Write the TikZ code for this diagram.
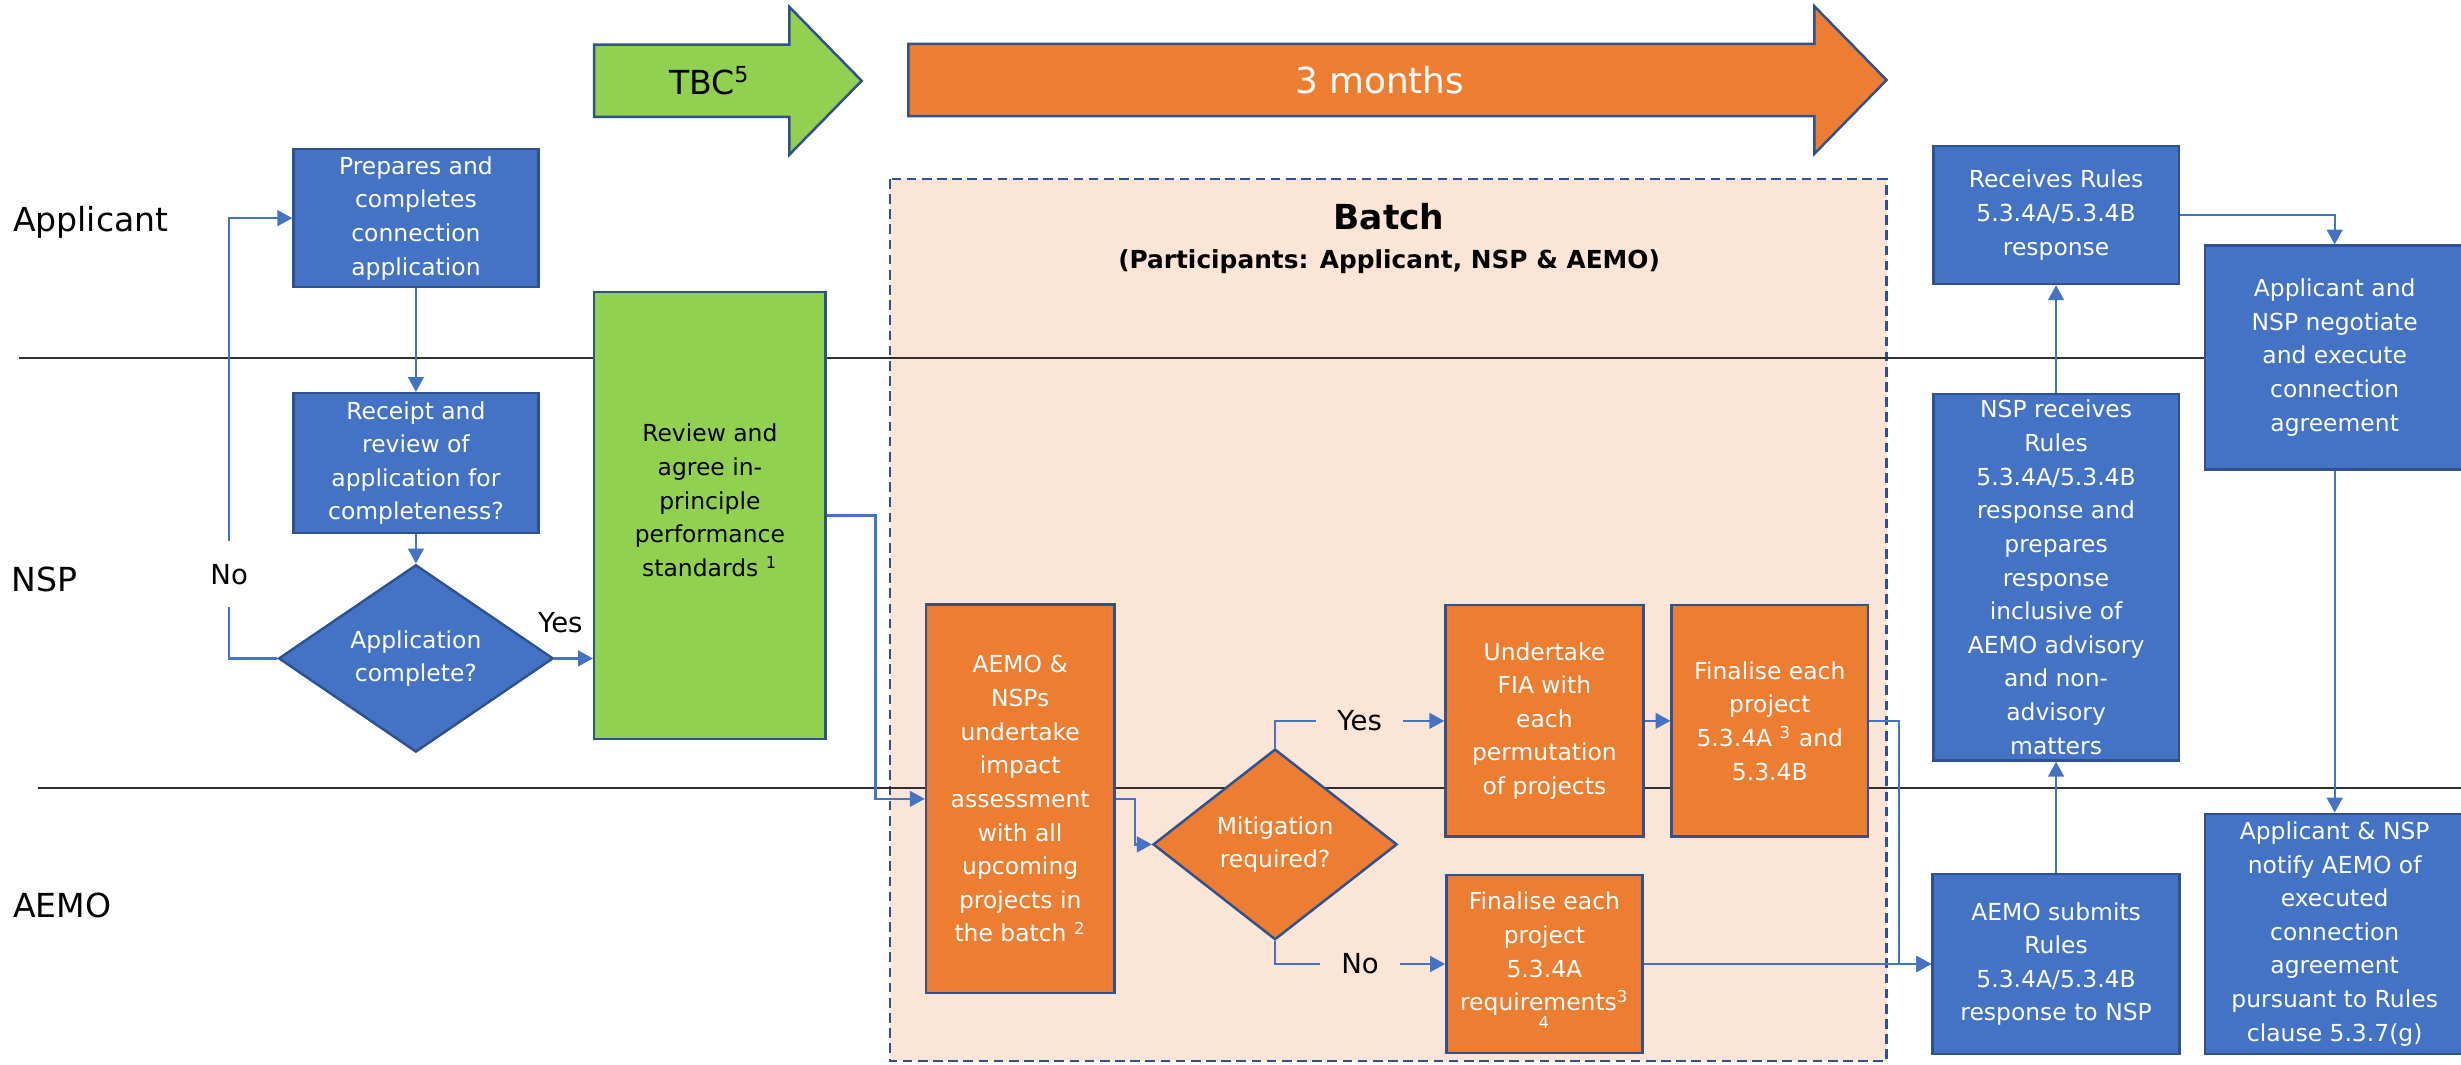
\documentclass[tikz,border=0pt]{standalone}
\usepackage{fontspec}
\setmainfont{DejaVu Sans}
\usetikzlibrary{arrows.meta,shapes.geometric,calc}

\definecolor{boxblue}{HTML}{4472C4}
\definecolor{rimblue}{HTML}{2F528F}
\definecolor{boxorange}{HTML}{ED7D31}
\definecolor{boxgreen}{HTML}{92D050}
\definecolor{batchpeach}{HTML}{FBE5D6}
\definecolor{laneline}{HTML}{303030}

\tikzset{
  stepblue/.style={draw=rimblue, fill=boxblue, text=white, line width=0.9pt, align=center, inner sep=1pt, font=\fontsize{8.5}{12.2}\selectfont},
  steporange/.style={stepblue, fill=boxorange},
  stepgreen/.style={stepblue, fill=boxgreen, text=black},
  decision/.style={diamond, draw=rimblue, line width=0.9pt, text=white, align=center, inner sep=0pt, font=\fontsize{8.5}{12.2}\selectfont},
  flow/.style={draw=boxblue, line width=0.8pt, -{Triangle[width=5.7pt,length=5.4pt]}},
  laneline/.style={draw=laneline, line width=0.7pt},
  lanelabel/.style={anchor=west, inner sep=0pt, font=\fontsize{12}{14}\selectfont},
  branch/.style={font=\fontsize{10}{12}\selectfont, inner xsep=0.27cm, inner ysep=1pt},
  timeline/.style={draw=rimblue, line width=0.9pt},
}

\begin{document}
\begin{tikzpicture}[x=0.02cm, y=-0.02cm]
        \useasboundingbox (0,0) rectangle (1568,678);
        \draw[fill=batchpeach, draw=rimblue, line width=1pt, dash pattern=on 3.5pt off 2pt] (567,114) rectangle (1202,676);
        \node[font=\bfseries\fontsize{12.5}{14}\selectfont] (batchtitle) at (885,138) {Batch};
        \node[font=\bfseries\fontsize{9}{10}\selectfont] (batchsub) at (885,167) {(Participants: Applicant, NSP \& AEMO)};
        \draw[laneline] (12,228.3) -- (1568,228.3);
        \draw[laneline] (24,502.3) -- (1568,502.3);
        \node[lanelabel] (applane) at (8,142) {Applicant};
        \node[lanelabel] (nsplane) at (7,369.5) {NSP};
        \node[lanelabel] (aemolane) at (8,577) {AEMO};
        \draw[timeline, fill=boxgreen] (378.6,28.5) -- (503,28.5) -- (503,4.5) -- (549,51.5) -- (503,98.5) -- (503,74.5) -- (378.6,74.5) -- cycle;
        \node[font=\fontsize{12}{14}\selectfont] (tbc) at (452,51.5) {TBC\textsuperscript{5}};
        \draw[timeline, fill=boxorange] (578.7,28) -- (1156,28) -- (1156,4) -- (1202,51) -- (1156,98) -- (1156,74) -- (578.7,74) -- cycle;
        \node[text=white, font=\fontsize{13}{15}\selectfont] (months) at (879,51) {3 months};
        \node[stepblue, minimum width=3.12cm, minimum height=1.76cm] (prep) at (265,139) {Prepares and\\completes\\connection\\application};
        \node[stepblue, minimum width=3.12cm, minimum height=1.78cm] (receipt) at (265,295) {Receipt and\\review of\\application for\\completeness?};
        \node[decision, fill=boxblue, minimum width=3.5cm, minimum height=2.08cm] (appdec) at (265,419.5) {Application\\complete?};
        \node[stepgreen, minimum width=2.95cm, minimum height=5.7cm] (review) at (452.3,328.5) {Review and\\agree in-\\principle\\performance\\standards \textsuperscript{1}\\[-1pt]};
        \node[steporange, minimum width=2.4cm, minimum height=4.95cm] (assess) at (650,509) {AEMO \&\\NSPs\\undertake\\impact\\assessment\\with all\\upcoming\\projects in\\the batch \textsuperscript{2}};
        \node[decision, fill=boxorange, minimum width=3.11cm, minimum height=2.43cm] (mitig) at (812.4,538) {Mitigation\\required?};
        \node[steporange, minimum width=2.52cm, minimum height=2.95cm] (fia) at (984,459.3) {Undertake\\FIA with\\each\\permutation\\of projects};
        \node[steporange, minimum width=2.5cm, minimum height=2.95cm] (finab) at (1127.6,459.3) {Finalise each\\project\\5.3.4A \textsuperscript{3} and\\5.3.4B};
        \node[steporange, minimum width=2.5cm, minimum height=2.27cm] (fina) at (984,614.2) {Finalise each\\project\\5.3.4A\\requirements\textsuperscript{3}\\[-3pt]\textsuperscript{4}};
        \node[stepblue, minimum width=3.13cm, minimum height=1.76cm] (recv) at (1310,137) {Receives Rules\\5.3.4A/5.3.4B\\response};
        \node[stepblue, minimum width=3.13cm, minimum height=4.67cm, inner sep=0pt] (nsprecv) at (1310,367.8) {NSP receives\\Rules\\5.3.4A/5.3.4B\\response and\\prepares\\response\\inclusive of\\AEMO advisory\\and non-\\advisory\\matters};
        \node[stepblue, minimum width=3.15cm, minimum height=2.29cm] (submit) at (1310,614.2) {AEMO submits\\Rules\\5.3.4A/5.3.4B\\response to NSP};
        \node[stepblue, minimum width=3.3cm, minimum height=2.85cm] (negot) at (1487.5,227.8) {Applicant and\\NSP negotiate\\and execute\\connection\\agreement};
        \node[stepblue, minimum width=3.3cm, minimum height=3.06cm] (notify) at (1487.5,595) {Applicant \& NSP\\notify AEMO of\\executed\\connection\\agreement\\pursuant to Rules\\clause 5.3.7(g)};
        \coordinate (loopx) at (146,0);
        \coordinate (jogA) at (557.8,0);
        \coordinate (jogB) at (722.9,0);
        \coordinate (jogC) at (1209.9,0);
        \draw[flow] (prep) -- (receipt);
        \draw[flow] (receipt) -- (appdec);
        \draw[flow] (appdec.east) -- (appdec.east -| review.west);
        \node[font=\fontsize{10}{12}\selectfont] (yesA) at (357,397) {Yes};
        \draw[flow] (appdec.west) -- (appdec.west -| loopx) |- (prep.west);
        \node[fill=white, minimum width=1cm, minimum height=0.84cm, font=\fontsize{10}{12}\selectfont] (noA) at (146,366) {No};
        \draw[flow] (review.east) -- (review.east -| jogA) |- (assess.west);
        \draw[flow] (assess.east) -- (assess.east -| jogB) |- (mitig.west);
        \draw[flow] (mitig.north) |- node[branch, fill=batchpeach, pos=0.75] (yesB) {Yes} (fia.west);
        \draw[flow] (mitig.south) |- node[branch, fill=batchpeach, pos=0.75] (noB) {No} (fina.west);
        \draw[flow] (fia) -- (finab);
        \draw[flow] (finab.east) -- (finab.east -| jogC) |- (submit.west);
        \draw[flow] (fina) -- (submit);
        \draw[flow] (submit) -- (nsprecv);
        \draw[flow] (nsprecv) -- (recv);
        \draw[flow] (recv.east) -| (negot.north);
        \draw[flow] (negot) -- (notify);
    \end{tikzpicture}
\end{document}
